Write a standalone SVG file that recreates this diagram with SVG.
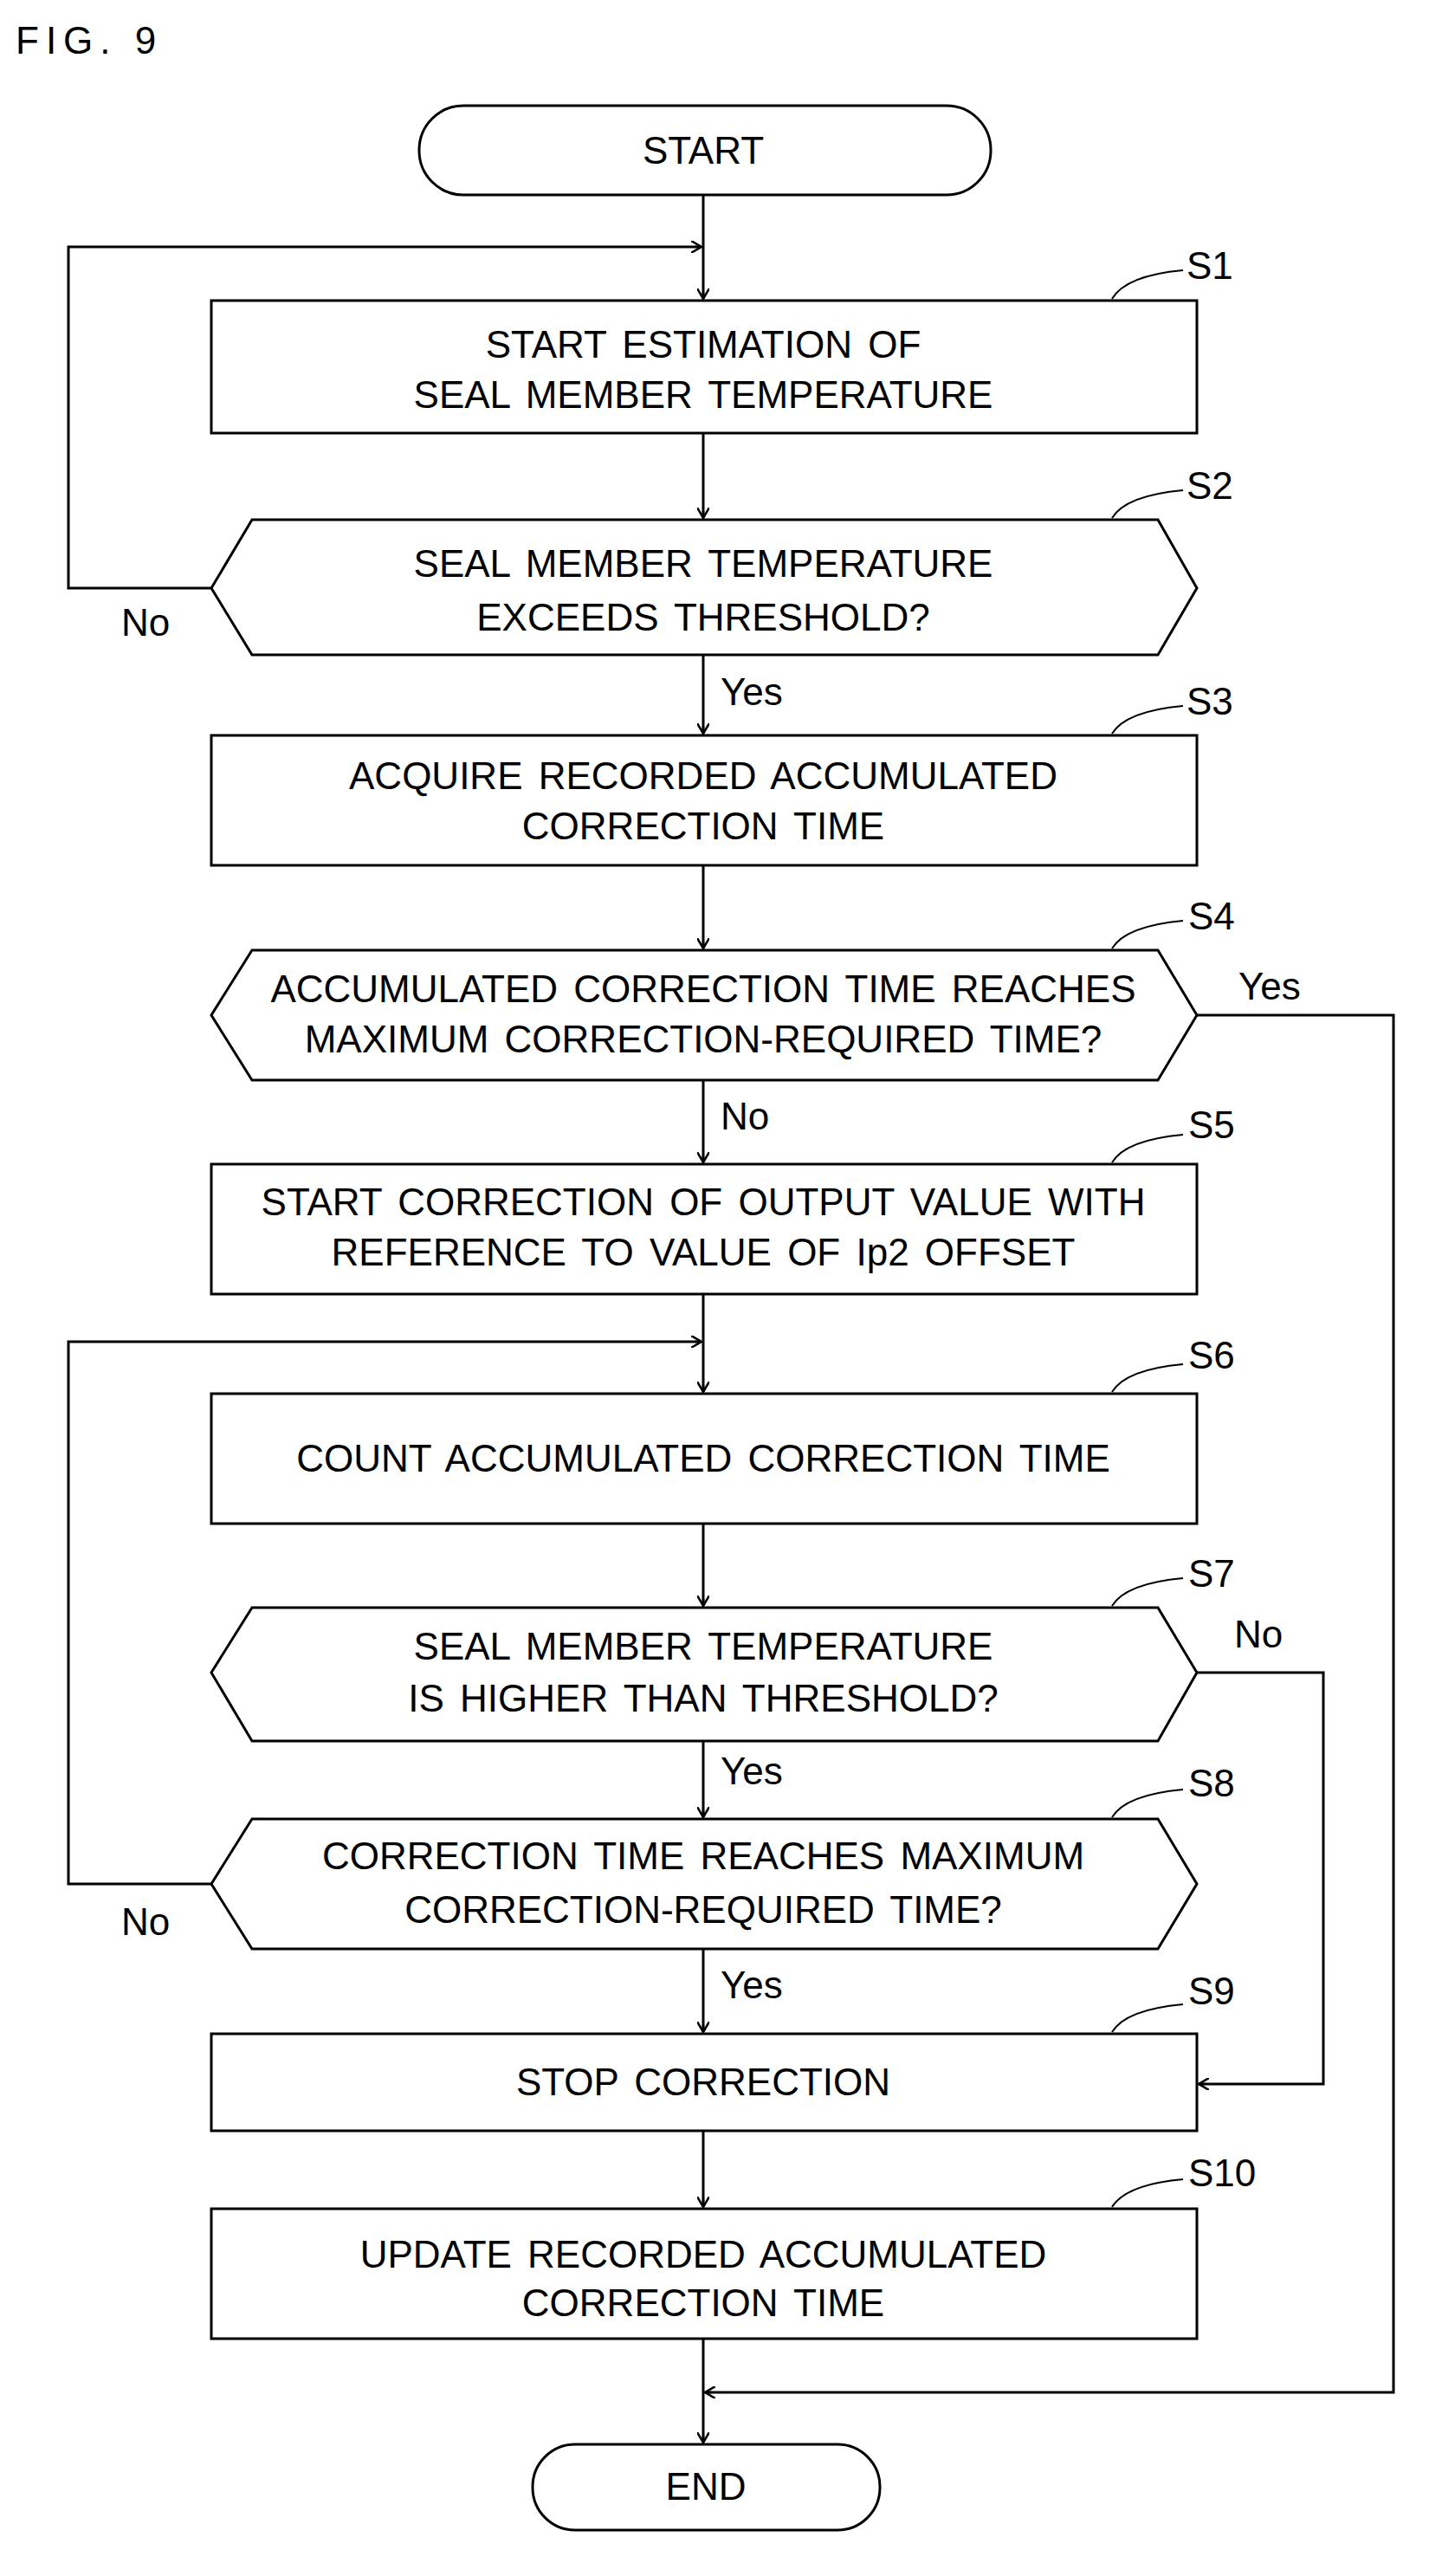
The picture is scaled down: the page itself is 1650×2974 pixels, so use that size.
<svg xmlns="http://www.w3.org/2000/svg" width="1650" height="2974" viewBox="0 0 1650 2974">
<style>
.s{fill:#fff;stroke:#000;stroke-width:3}
.t{font-family:"Liberation Sans",Arial,sans-serif;font-size:44px;word-spacing:6px;text-anchor:middle;fill:#000}
.l{font-family:"Liberation Sans",Arial,sans-serif;font-size:44px;fill:#000}
.c{fill:none;stroke:#000;stroke-width:3}
.ld{fill:none;stroke:#000;stroke-width:2}
</style>
<defs><marker id="a" markerWidth="14" markerHeight="14" refX="12" refY="7" orient="auto" markerUnits="userSpaceOnUse"><path d="M0,0 L12,7 L0,14 M4,7 L12,7" fill="none" stroke="#000" stroke-width="2.5"/></marker></defs>
<text x="18" y="62" class="l" font-size="52" letter-spacing="8">FIG. 9</text>
<g id="connectors">
<path class="c" d="M812,225 V345" marker-end="url(#a)"/>
<path class="c" d="M812,500 V598" marker-end="url(#a)"/>
<path class="c" d="M244,679 H79 V285 H810" marker-end="url(#a)"/>
<path class="c" d="M812,756 V847" marker-end="url(#a)"/>
<path class="c" d="M812,999 V1095" marker-end="url(#a)"/>
<path class="c" d="M812,1247 V1342" marker-end="url(#a)"/>
<path class="c" d="M1382,1172 H1609 V2762 H814" marker-end="url(#a)"/>
<path class="c" d="M812,1494 V1607" marker-end="url(#a)"/>
<path class="c" d="M812,1759 V1854" marker-end="url(#a)"/>
<path class="c" d="M812,2010 V2098" marker-end="url(#a)"/>
<path class="c" d="M244,2175 H79 V1549 H810" marker-end="url(#a)"/>
<path class="c" d="M1382,1931 H1528 V2406 H1384" marker-end="url(#a)"/>
<path class="c" d="M812,2250 V2346" marker-end="url(#a)"/>
<path class="c" d="M812,2460 V2548" marker-end="url(#a)"/>
<path class="c" d="M812,2700 V2820" marker-end="url(#a)"/>
<text class="l" x="140" y="734">No</text>
<text class="l" x="832" y="814">Yes</text>
<text class="l" x="1430" y="1154">Yes</text>
<text class="l" x="832" y="1304">No</text>
<text class="l" x="1425" y="1902">No</text>
<text class="l" x="832" y="2060">Yes</text>
<text class="l" x="140" y="2234">No</text>
<text class="l" x="832" y="2307">Yes</text>
</g>
<g id="start"><rect class="s" x="484" y="122" width="660" height="103" rx="51"/><text class="t" x="812" y="189">START</text></g>
<g id="s1"><rect class="s" x="244" y="347" width="1138" height="153"/><text class="t" x="812" y="413">START ESTIMATION OF</text><text class="t" x="812" y="471">SEAL MEMBER TEMPERATURE</text><path class="ld" d="M1284,345 Q1300,318 1366,312"/><text class="l" x="1370" y="322">S1</text></g>
<g id="s2"><polygon class="s" points="291,600 1337,600 1382,679 1337,756 291,756 244,679"/><text class="t" x="812" y="666">SEAL MEMBER TEMPERATURE</text><text class="t" x="812" y="728">EXCEEDS THRESHOLD?</text><path class="ld" d="M1284,598 Q1300,572 1366,566"/><text class="l" x="1370" y="576">S2</text></g>
<g id="s3"><rect class="s" x="244" y="849" width="1138" height="150"/><text class="t" x="812" y="911">ACQUIRE RECORDED ACCUMULATED</text><text class="t" x="812" y="969">CORRECTION TIME</text><path class="ld" d="M1284,847 Q1300,821 1366,815"/><text class="l" x="1370" y="825">S3</text></g>
<g id="s4"><polygon class="s" points="291,1097 1337,1097 1382,1172 1337,1247 291,1247 244,1172"/><text class="t" x="812" y="1157">ACCUMULATED CORRECTION TIME REACHES</text><text class="t" x="812" y="1215">MAXIMUM CORRECTION-REQUIRED TIME?</text><path class="ld" d="M1284,1095 Q1300,1069 1366,1063"/><text class="l" x="1372" y="1073">S4</text></g>
<g id="s5"><rect class="s" x="244" y="1344" width="1138" height="150"/><text class="t" x="812" y="1403">START CORRECTION OF OUTPUT VALUE WITH</text><text class="t" x="812" y="1461">REFERENCE TO VALUE OF Ip2 OFFSET</text><path class="ld" d="M1284,1342 Q1300,1316 1366,1310"/><text class="l" x="1372" y="1314">S5</text></g>
<g id="s6"><rect class="s" x="244" y="1609" width="1138" height="150"/><text class="t" x="812" y="1699">COUNT ACCUMULATED CORRECTION TIME</text><path class="ld" d="M1284,1607 Q1300,1581 1366,1575"/><text class="l" x="1372" y="1580">S6</text></g>
<g id="s7"><polygon class="s" points="291,1856 1337,1856 1382,1931 1337,2010 291,2010 244,1931"/><text class="t" x="812" y="1916">SEAL MEMBER TEMPERATURE</text><text class="t" x="812" y="1976">IS HIGHER THAN THRESHOLD?</text><path class="ld" d="M1284,1854 Q1300,1828 1366,1822"/><text class="l" x="1372" y="1832">S7</text></g>
<g id="s8"><polygon class="s" points="291,2100 1337,2100 1382,2175 1337,2250 291,2250 244,2175"/><text class="t" x="812" y="2158">CORRECTION TIME REACHES MAXIMUM</text><text class="t" x="812" y="2220">CORRECTION-REQUIRED TIME?</text><path class="ld" d="M1284,2098 Q1300,2072 1366,2066"/><text class="l" x="1372" y="2074">S8</text></g>
<g id="s9"><rect class="s" x="244" y="2348" width="1138" height="112"/><text class="t" x="812" y="2419">STOP CORRECTION</text><path class="ld" d="M1284,2346 Q1300,2320 1366,2314"/><text class="l" x="1372" y="2314">S9</text></g>
<g id="s10"><rect class="s" x="244" y="2550" width="1138" height="150"/><text class="t" x="812" y="2618">UPDATE RECORDED ACCUMULATED</text><text class="t" x="812" y="2674">CORRECTION TIME</text><path class="ld" d="M1284,2548 Q1300,2522 1366,2516"/><text class="l" x="1372" y="2524">S10</text></g>
<g id="end"><rect class="s" x="615" y="2822" width="401" height="99" rx="49"/><text class="t" x="815" y="2886">END</text></g>
</svg>
